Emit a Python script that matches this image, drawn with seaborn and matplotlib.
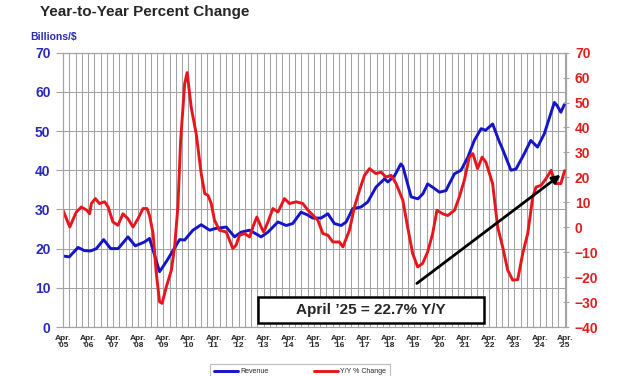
import matplotlib
matplotlib.use("Agg")
import matplotlib.pyplot as plt
import seaborn as sns
import numpy as np
import pandas as pd
from matplotlib.patches import Rectangle
from matplotlib.ticker import MultipleLocator

# revenue, billions of dollars (left axis)
rev_year = [2005.25, 2005.5, 2005.85, 2006.1, 2006.35, 2006.58, 2006.87, 2007.15, 2007.45,
            2007.84, 2008.13, 2008.5, 2008.7, 2009.1, 2009.4, 2009.7, 2009.9, 2010.1,
            2010.43, 2010.76, 2011.1, 2011.3, 2011.76, 2012.09, 2012.35, 2012.69, 2013.15,
            2013.42, 2013.82, 2014.15, 2014.41, 2014.74, 2015.0, 2015.2, 2015.54, 2015.81,
            2016.07, 2016.34, 2016.54, 2016.8, 2017.13, 2017.4, 2017.73, 2018.07, 2018.2,
            2018.47, 2018.72, 2018.8, 2019.13, 2019.4, 2019.6, 2019.79, 2020.0, 2020.26,
            2020.52, 2020.65, 2020.86, 2021.12, 2021.39, 2021.65, 2021.92, 2022.1, 2022.38,
            2022.65, 2022.75, 2023.11, 2023.31, 2023.64, 2023.9, 2024.17, 2024.44, 2024.84,
            2024.95, 2025.1, 2025.25]
revenue = [18.1, 17.9, 20.3, 19.5, 19.4, 20.0, 22.3, 20.0, 20.0,
           23.0, 20.7, 21.7, 22.6, 14.1, 17.0, 20.2, 22.3, 22.2,
           24.7, 26.1, 24.7, 25.1, 25.5, 23.0, 24.2, 24.7, 23.0,
           24.2, 26.8, 25.9, 26.4, 29.3, 28.6, 27.8, 27.8, 28.9,
           26.4, 25.9, 26.8, 30.2, 30.6, 31.9, 35.7, 37.8, 37.0,
           38.6, 41.6, 41.0, 33.2, 32.7, 34.0, 36.5, 35.6, 34.4,
           34.8, 36.5, 39.1, 40.0, 43.3, 47.6, 50.6, 50.2, 51.8,
           47.2, 45.8, 40.0, 40.3, 44.2, 47.6, 45.9, 49.3, 57.3,
           56.5, 54.8, 56.9]

# year-over-year percent change (right axis)
yoy_year = [2005.25, 2005.52, 2005.78, 2005.98, 2006.2, 2006.31, 2006.38, 2006.54, 2006.7,
            2006.91, 2007.05, 2007.24, 2007.44, 2007.64, 2007.84, 2008.04, 2008.24, 2008.44,
            2008.6, 2008.7, 2008.84, 2008.97, 2009.1, 2009.2, 2009.37, 2009.57, 2009.7,
            2009.83, 2009.94, 2010.1, 2010.2, 2010.36, 2010.56, 2010.76, 2010.9, 2011.03,
            2011.16, 2011.29, 2011.49, 2011.76, 2012.02, 2012.15, 2012.29, 2012.49, 2012.69,
            2012.82, 2012.98, 2013.15, 2013.25, 2013.42, 2013.62, 2013.82, 2014.08, 2014.28,
            2014.55, 2014.81, 2015.0, 2015.2, 2015.41, 2015.61, 2015.81, 2016.01, 2016.27,
            2016.41, 2016.67, 2016.87, 2017.07, 2017.27, 2017.47, 2017.73, 2017.93, 2018.13,
            2018.33, 2018.53, 2018.8, 2018.99, 2019.19, 2019.39, 2019.59, 2019.79, 2019.99,
            2020.16, 2020.39, 2020.59, 2020.86, 2021.05, 2021.25, 2021.45, 2021.59, 2021.78,
            2021.96, 2022.11, 2022.38, 2022.58, 2022.78, 2022.98, 2023.18, 2023.38, 2023.58,
            2023.78, 2023.98, 2024.11, 2024.31, 2024.51, 2024.71, 2024.89, 2025.1, 2025.25]
yoy_change = [6.8, 0.1, 6.1, 8.1, 6.8, 5.4, 9.5, 11.5, 9.5,
              10.2, 8.1, 2.1, 0.8, 5.4, 3.4, 0.1, 3.4, 7.5,
              7.5, 4.7, -2.5, -18.5, -29.9, -30.5, -23.9, -17.2, -7.9,
              8.1, 34.8, 57.5, 62.0, 48.1, 37.5, 21.5, 13.5, 12.8,
              9.5, 2.8, -1.2, -1.9, -8.5, -7.2, -3.2, -2.5, -3.9,
              0.1, 4.1, 0.1, -1.9, 2.1, 7.5, 6.1, 11.5, 9.5,
              10.2, 9.5, 7.0, 5.0, 2.8, -2.5, -3.2, -5.9, -5.9,
              -7.9, -1.2, 8.1, 14.8, 20.8, 23.5, 21.5, 22.1, 20.1,
              20.8, 17.5, 10.8, 0.1, -10.5, -15.9, -14.5, -9.9, -2.5,
              6.8, 5.4, 4.7, 6.8, 12.1, 18.8, 28.1, 29.5, 23.5,
              28.1, 26.1, 17.5, 0.1, -7.9, -17.2, -21.2, -21.0, -10.5,
              -2.5, 12.1, 16.1, 16.8, 19.5, 22.8, 17.5, 17.5, 22.7]

tick_years = list(range(2005, 2026))
tick_labels = ["Apr.\n'%02d" % (y % 100) for y in tick_years]
callout = "April \u201925 = 22.7% Y/Y"
trend_start = (2019.27, -23.2)
trend_end = (2025.18, 21.7)

BLUE = "#1414c8"
RED = "#e8161c"
GRID = "#a3a3a3"

sns.set_style("white")
plt.rcParams["font.family"] = ["Liberation Sans", "DejaVu Sans"]

rev_df = pd.DataFrame({"year": rev_year, "revenue": revenue})
yoy_df = pd.DataFrame({"year": yoy_year, "change": yoy_change})

fig = plt.figure(figsize=(6.27, 3.76), dpi=100)
ax = fig.add_axes([0.1005, 0.1303, 0.802, 0.7297])
ax2 = ax.twinx()

sns.lineplot(data=rev_df, x="year", y="revenue", ax=ax, color=BLUE, lw=2.1, label="Revenue", legend=False)
sns.lineplot(data=yoy_df, x="year", y="change", ax=ax2, color=RED, lw=2.1, label="Y/Y % Change", legend=False)

ax.set_xlim(2005.25, 2025.3)
ax.set_ylim(0, 70)
ax2.set_ylim(-40, 70)
ax.set_xlabel("")
ax.set_ylabel("")
ax2.set_ylabel("")

# grid: quarterly verticals, horizontals on the left scale
ax.xaxis.set_minor_locator(MultipleLocator(0.25))
ax.set_xticks([y + 0.25 for y in tick_years])
ax.set_xticklabels(tick_labels, fontsize=6, fontweight="bold", linespacing=1.0)
ax.grid(True, which="both", axis="x", color=GRID, lw=0.75)
ax.grid(True, which="major", axis="y", color=GRID, lw=0.75)
ax.set_axisbelow(True)
ax.tick_params(axis="x", which="both", length=4, color=GRID, direction="out", pad=2)
ax.tick_params(axis="y", length=5, color=GRID, labelcolor="#2a2ab4", labelsize=10, pad=4)
for lab in ax.get_yticklabels():
    lab.set_fontweight("bold")

ax2.set_yticks(np.arange(-40, 71, 10))
ax2.tick_params(axis="y", length=5, color=GRID, labelcolor="#dd1f1f", labelsize=10, pad=4, direction="inout")
for lab in ax2.get_yticklabels():
    lab.set_fontweight("bold")
for spine in list(ax.spines.values()) + list(ax2.spines.values()):
    spine.set_color(GRID)
    spine.set_linewidth(0.8)

# trend arrow
ax2.annotate("", xy=trend_end, xytext=trend_start,
             arrowprops=dict(arrowstyle="-|>", color="black", lw=2, mutation_scale=12))

# callout box
fig.patches.append(Rectangle((258 / 627, 1 - 323 / 376), 226 / 627, 26 / 376,
                             transform=fig.transFigure, facecolor="white",
                             edgecolor="black", lw=1.8, zorder=5))
fig.text(371 / 627, 1 - 310 / 376, callout, ha="center", va="center",
         fontsize=11, fontweight="bold", zorder=6)

fig.text(40 / 627, 1 - 12 / 376, "Year-to-Year Percent Change", ha="left", va="center",
         fontsize=11, fontweight="bold")
fig.text(30 / 627, 1 - 37 / 376, "Billions/$", ha="left", va="center",
         fontsize=7.5, fontweight="bold", color="#2a2ab4")

h1, l1 = ax.get_legend_handles_labels()
h2, l2 = ax2.get_legend_handles_labels()
leg = fig.legend(h1 + h2, l1 + l2, loc="upper center", bbox_to_anchor=(300 / 627, 1 - 361 / 376),
                 ncol=2, fontsize=5, frameon=True, fancybox=False, edgecolor="#aaaaaa",
                 handlelength=3.5, columnspacing=6.5, borderpad=0.5, handletextpad=0.3)
leg.get_frame().set_linewidth(0.8)

fig.savefig("out.png", dpi=100)
